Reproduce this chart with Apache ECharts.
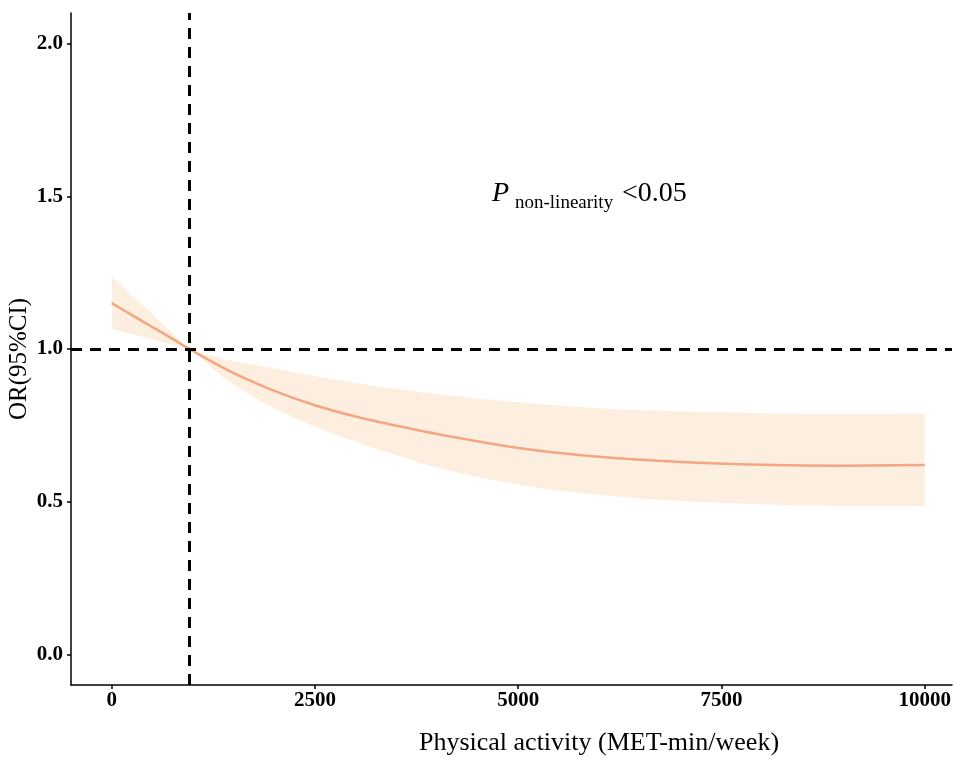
<!DOCTYPE html>
<html>
<head>
<meta charset="utf-8">
<script src="https://cdn.jsdelivr.net/npm/echarts@6/dist/echarts.min.js"></script>
<style>
html,body{margin:0;padding:0;background:#fff;}
#chart{width:954px;height:758px;}
</style>
</head>
<body>
<div id="chart"></div>
<script>
// Physical activity (MET-min/week)
const xVals = [0, 250, 500, 750, 957, 1250, 1500, 2000, 2500, 3000, 3500, 4000, 5000, 6000, 7000, 8000, 9000, 10000];
// OR estimate
const orVals = [1.150, 1.111, 1.072, 1.033, 1.000, 0.956, 0.921, 0.863, 0.816, 0.779, 0.749, 0.722, 0.676, 0.647, 0.630, 0.621, 0.618, 0.620];
// 95% CI
const upperVals = [1.238, 1.176, 1.114, 1.051, 1.000, 0.977, 0.961, 0.936, 0.912, 0.889, 0.869, 0.853, 0.826, 0.807, 0.796, 0.790, 0.787, 0.789];
const lowerVals = [1.065, 1.048, 1.031, 1.014, 1.000, 0.934, 0.884, 0.806, 0.746, 0.696, 0.652, 0.612, 0.556, 0.522, 0.502, 0.491, 0.486, 0.485];
// reference lines
const refX = 957;
const refY = 1.0;
// ticks
const xTicks = [0, 2500, 5000, 7500, 10000];
const yTicks = [0, 0.5, 1.0, 1.5, 2.0];
const xTitle = 'Physical activity (MET-min/week)';
const yTitle = 'OR(95%CI)';

const chart = echarts.init(document.getElementById('chart'), null, {renderer: 'canvas'});

// rows are [y, x] so the stacked dimension is the y value
const lowerRows = xVals.map((x, i) => [lowerVals[i], x]);
const widthRows = xVals.map((x, i) => [+(upperVals[i] - lowerVals[i]).toFixed(4), x]);
const lineData = xVals.map((x, i) => [x, orVals[i]]);

const serif = '"Liberation Serif", "Times New Roman", serif';
const dashStyle = {color: '#000', width: 3, type: [11, 8]};
const bandColor = '#FDEFE0';

chart.setOption({
  animation: false,
  backgroundColor: '#fff',
  grid: {left: 71, right: 0, top: 13, bottom: 73, containLabel: false},
  xAxis: {
    type: 'value',
    min: -500,
    max: 10335,
    splitLine: {show: false},
    axisLine: {show: true, onZero: false, lineStyle: {color: '#000', width: 1.5}},
    axisTick: {show: true, length: 4, customValues: xTicks, lineStyle: {color: '#000', width: 1.5}},
    axisLabel: {
      customValues: xTicks,
      margin: 5,
      color: '#000',
      fontFamily: serif,
      fontWeight: 'bold',
      fontSize: 21,
      formatter: v => String(v)
    }
  },
  yAxis: {
    type: 'value',
    min: -0.1,
    max: 2.1,
    splitLine: {show: false},
    axisLine: {show: true, onZero: false, lineStyle: {color: '#000', width: 1.5}},
    axisTick: {show: true, length: 4, customValues: yTicks, lineStyle: {color: '#000', width: 1.5}},
    axisLabel: {
      customValues: yTicks,
      margin: 8,
      color: '#000',
      fontFamily: serif,
      fontWeight: 'bold',
      fontSize: 21,
      formatter: v => v.toFixed(1)
    }
  },
  series: [
    {
      name: 'lower',
      type: 'line',
      stack: 'ci',
      data: lowerRows,
      encode: {x: 1, y: 0},
      smooth: 0.4,
      symbol: 'none',
      lineStyle: {width: 0, opacity: 0},
      silent: true,
      z: 1
    },
    {
      name: 'band',
      type: 'line',
      stack: 'ci',
      data: widthRows,
      encode: {x: 1, y: 0},
      smooth: 0.4,
      symbol: 'none',
      lineStyle: {width: 0, opacity: 0},
      areaStyle: {color: bandColor, opacity: 1},
      silent: true,
      z: 2
    },
    {
      name: 'OR',
      type: 'line',
      data: lineData,
      smooth: 0.4,
      symbol: 'none',
      lineStyle: {color: '#F4A582', width: 2.5},
      z: 3
    },
    {
      name: 'ref',
      type: 'line',
      data: [],
      z: 5,
      markLine: {
        silent: true,
        symbol: 'none',
        label: {show: false},
        lineStyle: dashStyle,
        data: [
          {xAxis: refX},
          {yAxis: refY}
        ]
      }
    }
  ],
  graphic: [
    {
      type: 'text', z: 10,
      x: 492,
      y: 194,
      style: {text: 'P', font: 'italic 28px ' + serif, fill: '#000', textAlign: 'left', textVerticalAlign: 'middle'}
    },
    {
      type: 'text', z: 10,
      x: 515,
      y: 203,
      style: {text: 'non-linearity', font: '19px ' + serif, fill: '#000', textAlign: 'left', textVerticalAlign: 'middle'}
    },
    {
      type: 'text', z: 10,
      x: 622,
      y: 194,
      style: {text: '<0.05', font: '28px ' + serif, fill: '#000', textAlign: 'left', textVerticalAlign: 'middle'}
    },
    {
      type: 'text', z: 10,
      x: 599,
      y: 743,
      style: {text: xTitle, font: '26px ' + serif, fill: '#000', textAlign: 'center', textVerticalAlign: 'middle'}
    },
    {
      type: 'text', z: 10,
      x: 19,
      y: 359,
      rotation: Math.PI / 2,
      style: {text: yTitle, font: '25px ' + serif, fill: '#000', textAlign: 'center', textVerticalAlign: 'middle'}
    }
  ]
});
</script>
</body>
</html>
